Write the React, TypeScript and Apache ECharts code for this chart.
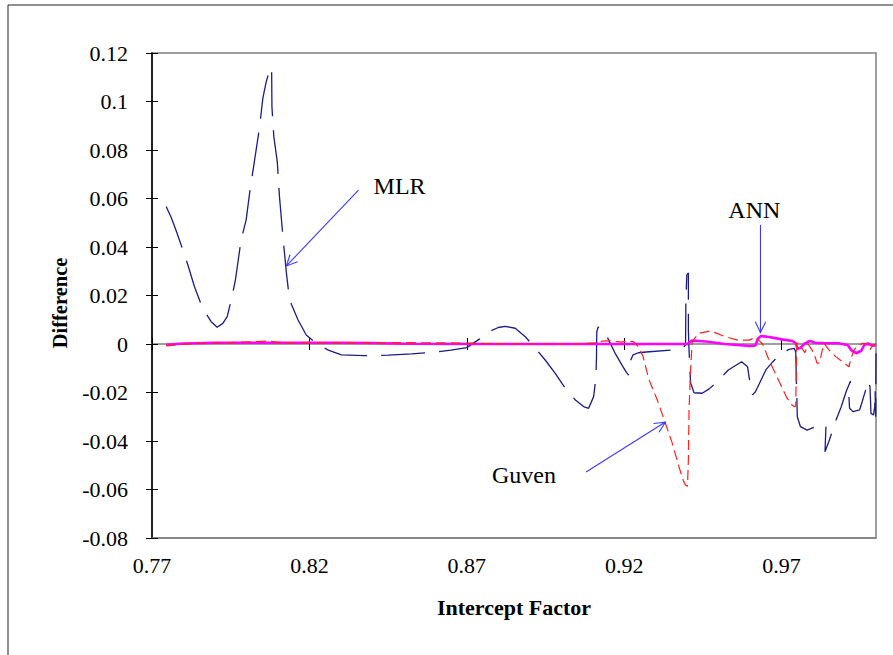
import React, { useEffect, useRef } from "react";
import * as echarts from "echarts";

const FONT = '"Liberation Serif", "Times New Roman", serif';

const X_TICKS = [0.77, 0.82, 0.87, 0.92, 0.97];
const X_MIN = 0.77;
const X_MAX = 1.0;
const Y_MIN = -0.08;
const Y_MAX = 0.12;
const Y_STEP = 0.02;

// MLR – difference vs intercept factor
const MLR: [number, number][] = [
  [0.7745, 0.0567], [0.776, 0.0525], [0.7776, 0.047], [0.7798, 0.0388], [0.7814, 0.0326],
  [0.7835, 0.0236], [0.7861, 0.0147], [0.7888, 0.0092], [0.7907, 0.0069], [0.7925, 0.0085],
  [0.7939, 0.0113], [0.7954, 0.0195], [0.7965, 0.0264], [0.7983, 0.0429], [0.7999, 0.0511],
  [0.801, 0.0621], [0.8026, 0.0759], [0.8042, 0.0896], [0.8052, 0.1013], [0.8063, 0.1082],
  [0.8074, 0.113], [0.808, 0.1141], [0.8081, 0.0979], [0.8087, 0.0855], [0.8098, 0.0752],
  [0.8105, 0.0607], [0.8116, 0.0442], [0.8127, 0.0292], [0.8137, 0.0181], [0.8164, 0.0099],
  [0.819, 0.0037], [0.8222, 0.0003], [0.826, -0.0025], [0.8302, -0.0045], [0.8375, -0.0048],
  [0.845, -0.0046], [0.8525, -0.0041], [0.86, -0.0033], [0.865, -0.0025], [0.87, -0.0015],
  [0.874, 0.002], [0.8774, 0.0053], [0.88, 0.0068], [0.8822, 0.0073], [0.8854, 0.0065],
  [0.8886, 0.003], [0.892, -0.002], [0.8949, -0.0066], [0.8981, -0.0121], [0.9013, -0.0183],
  [0.9045, -0.0231], [0.9071, -0.0258], [0.9087, -0.0265], [0.9103, -0.0217], [0.911, -0.014],
  [0.9112, -0.006], [0.9113, 0.005], [0.9117, 0.0069], [0.9125, 0.0068], [0.9135, 0.0058],
  [0.9151, 0.0016], [0.9172, -0.004], [0.9194, -0.0089], [0.9207, -0.0117], [0.9214, -0.0128],
  [0.9218, -0.0075], [0.9228, -0.0045], [0.9245, -0.0036], [0.927, -0.0033], [0.935, -0.0025],
  [0.9385, -0.0018], [0.9395, -0.0004], [0.9396, 0.0181], [0.9399, 0.0285], [0.9404, 0.0293],
  [0.9404, 0.0058], [0.9406, -0.0025], [0.9411, -0.0161], [0.9422, -0.0201], [0.9448, -0.0203],
  [0.947, -0.0185], [0.949, -0.0162], [0.9531, -0.0107], [0.9573, -0.0073], [0.9592, -0.0094],
  [0.9602, -0.018], [0.9608, -0.021], [0.9617, -0.0197], [0.963, -0.0162], [0.965, -0.0107],
  [0.9671, -0.0075], [0.9693, -0.0045], [0.9724, -0.0022], [0.974, -0.0018], [0.9745, -0.0032],
  [0.9747, -0.0148], [0.975, -0.03], [0.976, -0.0341], [0.9781, -0.0355], [0.9808, -0.0341],
  [0.9835, -0.033], [0.9841, -0.0341], [0.9838, -0.0444], [0.9852, -0.0396], [0.9873, -0.0313],
  [0.9889, -0.0261], [0.9905, -0.0197], [0.9919, -0.0153], [0.9914, -0.0217], [0.9916, -0.0265],
  [0.9927, -0.0279], [0.9948, -0.0272], [0.9956, -0.0238], [0.9967, -0.019], [0.9974, -0.0151],
  [0.9981, -0.0176], [0.9984, -0.0286], [0.9992, -0.0293], [0.9996, -0.0258], [0.9997, -0.019],
  [0.9999, -0.03], [1.0, -0.0038],
];

// Guven – difference vs intercept factor
const GUVEN: [number, number][] = [
  [0.7745, -0.0008], [0.779, -0.0002], [0.785, 0.0003], [0.795, 0.0006], [0.803, 0.001],
  [0.807, 0.0012], [0.811, 0.0006], [0.82, 0.0005], [0.84, 0.0006], [0.86, 0.0005],
  [0.87, 0.0004], [0.878, 0.0001], [0.89, 0.0], [0.905, 0.0], [0.911, 0.0005],
  [0.913, 0.0012], [0.916, 0.0014], [0.919, 0.0008], [0.921, 0.0012], [0.923, 0.001],
  [0.9245, -0.0011], [0.926, -0.0052], [0.9279, -0.0148], [0.9305, -0.023], [0.9329, -0.032],
  [0.9353, -0.041], [0.9374, -0.0506], [0.9387, -0.056], [0.9394, -0.0581], [0.9401, -0.0586],
  [0.9404, -0.0478], [0.9406, -0.0272], [0.9411, -0.0107], [0.9416, 0.001], [0.9437, 0.0044],
  [0.9474, 0.0054], [0.9522, 0.003], [0.956, 0.0016], [0.9597, 0.0016], [0.9618, 0.0028],
  [0.964, 0.0], [0.966, -0.0066], [0.969, -0.0148], [0.9716, -0.022], [0.9733, -0.0252],
  [0.974, -0.0258], [0.9745, -0.0256], [0.9747, -0.011], [0.9748, 0.0003], [0.9754, 0.0004],
  [0.9774, -0.0036], [0.9784, 0.0], [0.9797, -0.0025], [0.9808, -0.0059], [0.9813, -0.008],
  [0.9821, -0.0077], [0.9827, -0.0038], [0.9835, 0.0003], [0.9851, -0.0025], [0.9872, -0.0052],
  [0.9893, -0.0073], [0.9914, -0.0094], [0.9919, -0.0066], [0.993, -0.0025], [0.9941, -0.0008],
  [0.9957, 0.0003], [0.9973, 0.0], [0.998, -0.0025], [0.9989, -0.0006], [1.0, 0.0],
];

// ANN – difference vs intercept factor
const ANN: [number, number][] = [
  [0.7745, -0.0003], [0.78, 0.0002], [0.79, 0.0005], [0.81, 0.0005], [0.83, 0.0005],
  [0.84, 0.0004], [0.85, 0.0001], [0.88, 0.0], [0.91, 0.0], [0.938, 0.0],
  [0.94, 0.0], [0.9415, 0.0014], [0.946, 0.001], [0.952, 0.0], [0.956, -0.0004],
  [0.96, -0.0008], [0.9617, -0.0006], [0.9625, 0.0023], [0.9635, 0.0033], [0.9665, 0.0028],
  [0.97, 0.0019], [0.9735, 0.0012], [0.9745, 0.0003], [0.9751, -0.002], [0.976, -0.0016],
  [0.9772, 0.0], [0.979, 0.0013], [0.9805, 0.0005], [0.984, 0.0003], [0.988, 0.0003],
  [0.991, -0.0004], [0.9921, -0.0025], [0.9937, -0.0038], [0.9953, -0.0028], [0.9963, -0.0003],
  [0.9974, 0.0002], [0.999, -0.0008], [1.0, -0.0003],
];

// Annotations (data coordinates)
const LABELS = [
  { text: "MLR", at: [0.8404, 0.0652] },
  { text: "ANN", at: [0.9531, 0.0553] },
  { text: "Guven", at: [0.878, -0.054] },
];
const ARROWS = [
  { from: [0.8356, 0.0635], to: [0.8127, 0.0322] },
  { from: [0.9633, 0.0491], to: [0.9633, 0.0047] },
  { from: [0.9079, -0.0528], to: [0.9331, -0.0322] },
];

const fmtY = (v: number) => String(Math.round(v * 100) / 100);

export default function App() {
  const ref = useRef<HTMLDivElement>(null);
  useEffect(() => {
    const chart = echarts.init(ref.current!, null, { renderer: "svg", width: 893, height: 655 });
    const tickAxisBase = {
      type: "value",
      min: X_MIN,
      max: X_MAX,
      position: "bottom",
      axisLabel: { show: false },
      splitLine: { show: false },
    };
    const option: any = {
      animation: false,
      backgroundColor: "#ffffff",
      grid: {
        left: 152,
        right: 17,
        top: 53,
        bottom: 117,
        show: true,
        borderColor: "#808080",
        borderWidth: 1.5,
        backgroundColor: "transparent",
      },
      xAxis: [
        {
          type: "value",
          min: X_MIN,
          max: X_MAX,
          position: "bottom",
          axisLine: { show: true, onZero: false, lineStyle: { color: "#808080", width: 1.5 } },
          axisTick: { show: false },
          splitLine: { show: false },
          axisLabel: {
            customValues: X_TICKS,
            formatter: (v: number) => v.toFixed(2),
            fontFamily: FONT,
            fontSize: 22,
            color: "#000",
            margin: 16,
          },
          name: "Intercept Factor",
          nameLocation: "middle",
          nameGap: 58,
          nameTextStyle: { fontFamily: FONT, fontSize: 22, fontWeight: "bold", color: "#000" },
        },
        {
          ...tickAxisBase,
          axisLine: { show: true, onZero: true, onZeroAxisIndex: 0, lineStyle: { color: "#808080", width: 1.5 } },
          axisTick: { show: true, customValues: X_TICKS, length: 6, inside: false, lineStyle: { color: "#000", width: 1 } },
        },
        {
          ...tickAxisBase,
          axisLine: { show: false, onZero: true, onZeroAxisIndex: 0 },
          axisTick: { show: true, customValues: X_TICKS, length: 6, inside: true, lineStyle: { color: "#000", width: 1 } },
        },
      ],
      yAxis: [
        {
          type: "value",
          min: Y_MIN,
          max: Y_MAX,
          interval: Y_STEP,
          position: "left",
          axisLine: { show: true, onZero: false, lineStyle: { color: "#000", width: 1.6 } },
          axisTick: { show: true, length: 6, inside: false, lineStyle: { color: "#000", width: 1 } },
          splitLine: { show: false },
          axisLabel: { formatter: fmtY, fontFamily: FONT, fontSize: 22, color: "#000", margin: 24 },
          name: "Difference",
          nameLocation: "middle",
          nameGap: 82,
          nameTextStyle: { fontFamily: FONT, fontSize: 20.5, fontWeight: "bold", color: "#000", padding: [0, 15, 0, 0] },
        },
        {
          type: "value",
          min: Y_MIN,
          max: Y_MAX,
          interval: Y_STEP,
          position: "left",
          axisLine: { show: false, onZero: false },
          axisTick: { show: true, length: 6, inside: true, lineStyle: { color: "#000", width: 1 } },
          axisLabel: { show: false },
          splitLine: { show: false },
        },
      ],
      series: [
        {
          name: "MLR",
          type: "line",
          data: MLR,
          xAxisIndex: 0,
          yAxisIndex: 0,
          symbol: "none",
          z: 2,
          lineStyle: { color: "#1c1c86", width: 1.3, type: [44, 14] },
        },
        {
          name: "ANN",
          type: "line",
          data: ANN,
          xAxisIndex: 0,
          yAxisIndex: 0,
          symbol: "none",
          z: 3,
          lineStyle: { color: "#ff00ff", width: 2.6 },
        },
        {
          name: "Guven",
          type: "line",
          data: GUVEN,
          xAxisIndex: 0,
          yAxisIndex: 0,
          symbol: "none",
          z: 4,
          lineStyle: { color: "#ff2020", width: 1.2, type: [10, 5] },
        },
      ],
    };
    chart.setOption(option);

    const px = (p: number[]) => chart.convertToPixel({ xAxisIndex: 0, yAxisIndex: 0 }, p) as number[];
    const graphics: any[] = [
      {
        type: "rect",
        shape: { x: 8, y: 5, width: 900, height: 700 },
        style: { fill: "none", stroke: "#222", lineWidth: 1 },
        silent: true,
        z: 100,
      },
    ];
    const arrowColor = "#3a3aff";
    ARROWS.forEach((a) => {
      const f = px(a.from);
      const t = px(a.to);
      graphics.push({
        type: "line",
        shape: { x1: f[0], y1: f[1], x2: t[0], y2: t[1] },
        style: { stroke: arrowColor, lineWidth: 1.1 },
        silent: true,
        z: 100,
      });
      const ang = Math.atan2(f[1] - t[1], f[0] - t[0]);
      const L = 12;
      const spread = 0.45;
      const p1 = [t[0] + L * Math.cos(ang + spread), t[1] + L * Math.sin(ang + spread)];
      const p2 = [t[0] + L * Math.cos(ang - spread), t[1] + L * Math.sin(ang - spread)];
      graphics.push({
        type: "polyline",
        shape: { points: [p1, t, p2] },
        style: { stroke: arrowColor, lineWidth: 1.1, fill: "none" },
        silent: true,
        z: 100,
      });
    });
    LABELS.forEach((l) => {
      const p = px(l.at);
      graphics.push({
        type: "text",
        x: p[0],
        y: p[1],
        style: {
          text: l.text,
          fontFamily: FONT,
          fontSize: 24,
          fill: "#000",
          align: "left",
          verticalAlign: "middle",
        },
        silent: true,
        z: 100,
      });
    });
    chart.setOption({ graphic: graphics });

    return () => chart.dispose();
  }, []);
  return (
    <div
      ref={ref}
      style={{ position: "fixed", left: 0, top: 0, width: 893, height: 655, background: "#fff" }}
    />
  );
}
